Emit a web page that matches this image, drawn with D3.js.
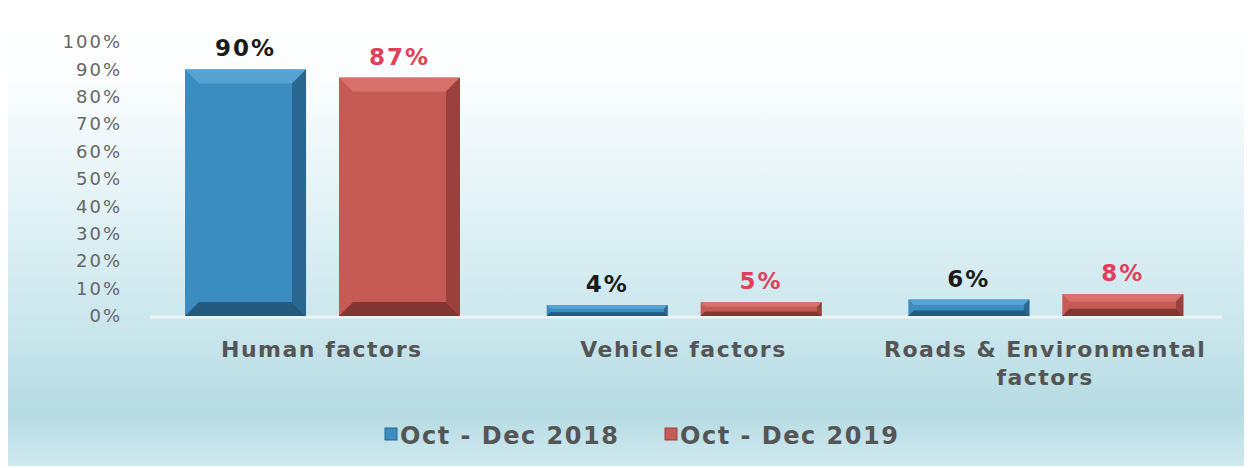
<!DOCTYPE html>
<html>
<head>
<meta charset="utf-8">
<script src="https://cdn.jsdelivr.net/npm/d3@7"></script>
<style>
    body { margin: 0; background: #fff; }
    text { font-family: 'DejaVu Sans', sans-serif; }
</style>
</head>
<body>
<script>
// data
const categories = ['Human factors', 'Vehicle factors', 'Roads & Environmental factors']
const series = ['Oct - Dec 2018', 'Oct - Dec 2019']
const values2018 = [0.90, 0.04, 0.06]
const values2019 = [0.87, 0.05, 0.08]
const yTicks = [0, 0.1, 0.2, 0.3, 0.4, 0.5, 0.6, 0.7, 0.8, 0.9, 1]

const width = 1250
const height = 468

const colors = {
    'Oct - Dec 2018': {main: '#3a8cc1', light: '#55a2d3', dark: '#2a6790', darker: '#245a7e'},
    'Oct - Dec 2019': {main: '#c65a55', light: '#d8706b', dark: '#9c403d', darker: '#833532'}
}
const labelColors = {'Oct - Dec 2018': '#1a1a1a', 'Oct - Dec 2019': '#e0405a'}

let svg = d3.select('body').append('svg')
    .attr('width', width)
    .attr('height', height)

// background
let defs = svg.append('defs')
let grad = defs.append('linearGradient')
    .attr('id', 'bg')
    .attr('x1', 0).attr('y1', 0).attr('x2', 0).attr('y2', 1)
grad.selectAll('stop')
    .data([[0, '#ffffff'], [0.15, '#fbfdfe'], [0.45, '#e0f1f5'], [0.7, '#c9e6ec'], [0.88, '#b6dbe3'], [1, '#cfe9ef']])
    .enter().append('stop')
    .attr('offset', d => d[0])
    .attr('stop-color', d => d[1])

svg.append('rect')
    .attr('x', 8).attr('y', 14)
    .attr('width', width - 14).attr('height', height - 16)
    .attr('fill', 'url(#bg)')

// scales
let y = d3.scaleLinear()
    .domain([0, 1])
    .range([316, 42])

let x0 = d3.scaleBand()
    .domain(categories)
    .range([141, 1226])

let x1 = d3.scaleBand()
    .domain(series)
    .range([44, 319])
    .paddingInner(0.214)

// y axis
let yAxis = svg.append('g')
    .attr('transform', 'translate(122,0)')
    .call(d3.axisLeft(y).tickValues(yTicks).tickFormat(d3.format('.0%')).tickSize(0).tickPadding(0))
yAxis.select('.domain').remove()
yAxis.selectAll('text')
    .attr('fill', '#666')
    .attr('font-size', 18)
    .attr('letter-spacing', 2)
    .attr('font-family', "'DejaVu Sans', sans-serif")

// baseline
svg.append('line')
    .attr('x1', 150).attr('x2', 1222)
    .attr('y1', y(0) + 1).attr('y2', y(0) + 1)
    .attr('stroke', '#eef3f4')
    .attr('stroke-width', 3)

// bars
let rows = []
categories.forEach((cat, i) => {
    rows.push({cat: cat, s: series[0], v: values2018[i]})
    rows.push({cat: cat, s: series[1], v: values2019[i]})
})

rows.forEach(d => {
    const x = x0(d.cat) + x1(d.s)
    const w = x1.bandwidth()
    const top = y(d.v)
    const bottom = y(0)
    const h = bottom - top
    const b = Math.min(14, h / 3)
    const c = colors[d.s]
    let g = svg.append('g')

    g.append('rect')
        .attr('x', x).attr('y', top)
        .attr('width', w).attr('height', h)
        .attr('fill', c.main)

    const poly = pts => g.append('polygon').attr('points', pts.map(p => p.join(',')).join(' '))
    // top bevel
    poly([[x, top], [x + w, top], [x + w - b, top + b], [x + b, top + b]]).attr('fill', c.light)
    // right bevel
    poly([[x + w, top], [x + w, bottom], [x + w - b, bottom - b], [x + w - b, top + b]]).attr('fill', c.dark)
    // bottom bevel
    poly([[x, bottom], [x + w, bottom], [x + w - b, bottom - b], [x + b, bottom - b]]).attr('fill', c.darker)

    // value label
    svg.append('text')
        .attr('x', x + w / 2)
        .attr('y', top - 13)
        .attr('text-anchor', 'middle')
        .attr('font-size', 23)
        .attr('font-weight', 'bold')
        .attr('letter-spacing', 2)
        .attr('fill', labelColors[d.s])
        .text(d3.format('.0%')(d.v))
})

// category labels
const catLines = {
    'Human factors': ['Human factors'],
    'Vehicle factors': ['Vehicle factors'],
    'Roads & Environmental factors': ['Roads & Environmental', 'factors']
}
categories.forEach(cat => {
    let t = svg.append('text')
        .attr('x', x0(cat) + x0.bandwidth() / 2)
        .attr('y', 357)
        .attr('text-anchor', 'middle')
        .attr('font-size', 22)
        .attr('font-weight', 'bold')
        .attr('letter-spacing', 1.5)
        .attr('fill', '#555')
    catLines[cat].forEach((line, i) => {
        t.append('tspan')
            .attr('x', x0(cat) + x0.bandwidth() / 2)
            .attr('dy', i == 0 ? 0 : 28)
            .text(line)
    })
})

// legend
const legendX = [385, 665]
series.forEach((s, i) => {
    svg.append('rect')
        .attr('x', legendX[i]).attr('y', 428)
        .attr('width', 12).attr('height', 12)
        .attr('fill', colors[s].main)
        .attr('stroke', colors[s].dark)
    svg.append('text')
        .attr('x', legendX[i] + 15)
        .attr('y', 444)
        .attr('font-size', 24)
        .attr('font-weight', 'bold')
        .attr('letter-spacing', 1.5)
        .attr('fill', '#555')
        .text(s)
})
</script>
</body>
</html>
